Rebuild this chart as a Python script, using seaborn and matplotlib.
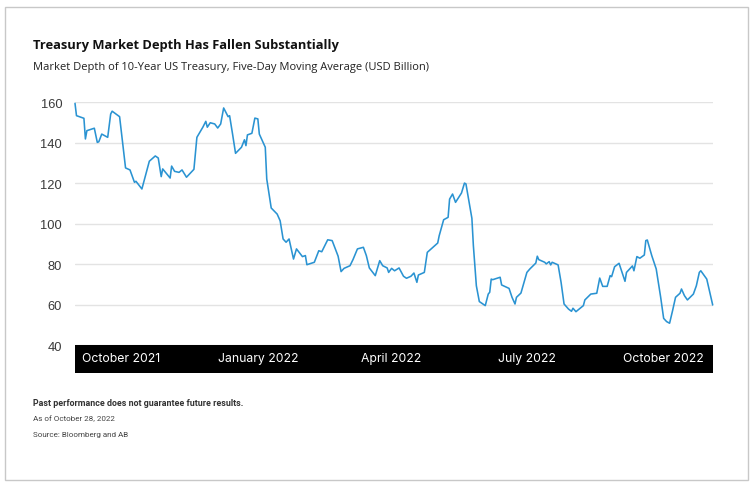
import numpy as np
import pandas as pd
import matplotlib
matplotlib.use("Agg")
import matplotlib.pyplot as plt
import seaborn as sns
from matplotlib.patches import Rectangle

# ---------------- data ----------------
start_date = "2021-08-31"
day_offsets = [0, 1, 6, 7, 8, 13, 15, 16, 18, 22, 24, 25, 30, 34, 37, 40, 41, 45,
               50, 54, 56, 58, 59, 64, 65, 67, 70, 72, 75, 80, 82, 86, 88, 89, 91,
               94, 96, 98, 100, 103, 104, 106, 108, 112, 114, 115, 116, 119, 121,
               123, 124, 128, 129, 132, 136, 138, 140, 142, 144, 147, 149, 152,
               153, 155, 156, 161, 164, 166, 170, 173, 177, 179, 181, 185, 187,
               190, 194, 196, 198, 202, 205, 207, 210, 211, 213, 215, 218, 221,
               223, 226, 228, 230, 231, 235, 237, 242, 244, 245, 248, 251, 252,
               254, 256, 260, 262, 263, 267, 268, 270, 272, 276, 278, 279, 280,
               281, 286, 287, 292, 294, 296, 297, 300, 304, 306, 310, 311, 312,
               316, 317, 319, 320, 321, 325, 327, 329, 332, 334, 335, 337, 342,
               343, 347, 351, 353, 355, 358, 360, 361, 363, 366, 370, 371, 375,
               376, 378, 380, 383, 384, 385, 388, 391, 394, 396, 398, 400, 402,
               404, 407, 408, 410, 412, 416, 418, 420, 421, 425, 427, 429]
depth = [159.5, 153.4, 152.1, 141.9, 146.0, 147.2, 140.2, 140.5, 144.3, 142.7,
         154.2, 155.6, 152.9, 127.6, 126.6, 120.5, 121.0, 117.2, 130.9, 133.5,
         132.5, 123.3, 127.1, 122.6, 128.5, 125.9, 125.4, 126.6, 123.0, 126.9,
         142.7, 147.7, 150.6, 147.7, 149.9, 149.3, 147.3, 149.3, 157.2, 152.9,
         153.4, 144.3, 134.8, 137.8, 141.5, 138.6, 143.9, 144.7, 152.2, 151.8,
         144.3, 137.8, 122.1, 107.8, 104.8, 101.5, 92.5, 90.9, 92.5, 82.6, 87.6,
         84.7, 83.8, 84.3, 79.8, 81.0, 86.7, 86.2, 92.1, 91.7, 84.0, 76.4, 78.0,
         79.3, 82.3, 87.6, 88.4, 84.3, 78.2, 74.4, 81.8, 79.3, 78.2, 76.0, 78.0,
         76.8, 78.2, 74.1, 73.1, 74.1, 75.7, 71.1, 74.7, 76.0, 85.9, 89.2, 90.5,
         94.1, 102.0, 103.2, 112.2, 114.7, 110.6, 115.2, 120.1, 119.7, 102.7,
         89.2, 69.4, 61.6, 59.6, 65.3, 66.2, 72.7, 72.4, 73.6, 69.8, 68.1, 63.7,
         60.4, 63.7, 65.8, 76.0, 77.7, 80.6, 84.0, 82.3, 81.0, 80.2, 81.3, 79.7,
         81.0, 79.7, 71.1, 60.4, 57.9, 56.8, 58.3, 56.6, 59.6, 62.4, 65.3, 65.7,
         73.2, 69.1, 69.1, 74.4, 73.9, 78.8, 80.5, 71.6, 76.0, 79.2, 76.8, 83.8,
         83.0, 84.6, 91.7, 92.0, 84.3, 77.7, 63.7, 53.3, 51.7, 50.9, 57.1, 63.7,
         65.7, 67.8, 64.5, 62.4, 65.3, 69.4, 76.0, 76.8, 72.7, 66.2, 59.9]

y_ticks = [40, 60, 80, 100, 120, 140, 160]
x_tick_dates = ["2021-10-01", "2022-01-01", "2022-04-01", "2022-07-01", "2022-10-01"]
x_tick_labels = ["October 2021", "January 2022", "April 2022", "July 2022", "October 2022"]

title = "Treasury Market Depth Has Fallen Substantially"
subtitle = "Market Depth of 10-Year US Treasury, Five-Day Moving Average (USD Billion)"
note_bold = "Past performance does not guarantee future results."
note_asof = "As of October 28, 2022"
note_source = "Source: Bloomberg and AB"

# ---------------- styling ----------------
sns.set_theme(style="whitegrid")
plt.rcParams["font.family"] = ["Roboto", "DejaVu Sans"]

W, H = 755, 489
fig = plt.figure(figsize=(W / 100, H / 100), dpi=100)
fig.patch.set_facecolor("white")

def px_x(x):
    return x / W

def px_y(y):
    return 1 - y / H

ax_l, ax_r, ax_t, ax_b = 75, 712.7, 103.3, 346.3
ax = fig.add_axes([px_x(ax_l), px_y(ax_b), (ax_r - ax_l) / W, (ax_b - ax_t) / H])
ax.set_facecolor("white")

df = pd.DataFrame({
    "date": pd.to_datetime(start_date) + pd.to_timedelta(day_offsets, unit="D"),
    "depth": depth,
})

sns.lineplot(data=df, x="date", y="depth", ax=ax, color="#2a93d2", linewidth=1.15)
for ln in ax.lines:
    ln.set_clip_on(False)
    ln.set_zorder(3)

ax.set_xlim(df["date"].min(), df["date"].max())
ax.set_ylim(40, 160)
ax.set_yticks(y_ticks)
ax.set_xticks(pd.to_datetime(x_tick_dates))
ax.set_xticklabels(x_tick_labels)
ax.set_xlabel("")
ax.set_ylabel("")

ax.grid(axis="y", color="#e3e3e3", linewidth=1.0)
ax.grid(axis="x", visible=False)
for s in ax.spines.values():
    s.set_visible(False)

ax.tick_params(axis="y", length=0, pad=9.2, labelsize=9.3, labelcolor="#3a3a3a")
ax.tick_params(axis="x", length=0, pad=4.6, labelsize=8.8, labelcolor="white")
for lab in ax.get_yticklabels():
    lab.set_fontfamily(["Liberation Sans", "DejaVu Sans"])
for lab in ax.get_xticklabels():
    lab.set_fontfamily(["Inter", "DejaVu Sans"])

# black band under the plot holding the month labels
band_h = 28 / (ax_b - ax_t)
ax.add_patch(Rectangle((0, -band_h), 1, band_h, transform=ax.transAxes,
                       facecolor="black", edgecolor="none", clip_on=False, zorder=1))
ax.xaxis.set_zorder(2.5)   # month labels drawn on top of the band

# outer frame
fig.patches.append(Rectangle((px_x(5), px_y(481)), (748 - 5) / W, (481 - 8) / H,
                             transform=fig.transFigure, fill=False,
                             edgecolor="#c8c8c8", linewidth=1.0))

# texts
t1 = fig.text(px_x(33), px_y(49.3), title, fontsize=10.2, fontweight="bold",
              color="#111111", family=["Open Sans", "DejaVu Sans"], va="baseline")
t2 = fig.text(px_x(33), px_y(70), subtitle, fontsize=8.6,
              color="#222222", family=["Open Sans", "DejaVu Sans"], va="baseline")
t3 = fig.text(px_x(33), px_y(406), note_bold, fontsize=5.6, fontweight="bold",
              color="#333333", family=["Roboto", "DejaVu Sans"], va="baseline")
t4 = fig.text(px_x(33), px_y(421), note_asof, fontsize=5.6,
              color="#444444", family=["Roboto", "DejaVu Sans"], va="baseline")
t5 = fig.text(px_x(33), px_y(437), note_source, fontsize=5.6,
              color="#444444", family=["Roboto", "DejaVu Sans"], va="baseline")

# scale font sizes so text widths match the reference
fig.canvas.draw()
renderer = fig.canvas.get_renderer()
targets = [(t1, 308), (t2, 393), (t3, 206), (t5, 95)]
for t, target in targets:
    w = t.get_window_extent(renderer).width
    t.set_fontsize(t.get_fontsize() * target / w)
t4.set_fontsize(t5.get_fontsize())

fig.savefig("out.png", dpi=100, facecolor="white")
